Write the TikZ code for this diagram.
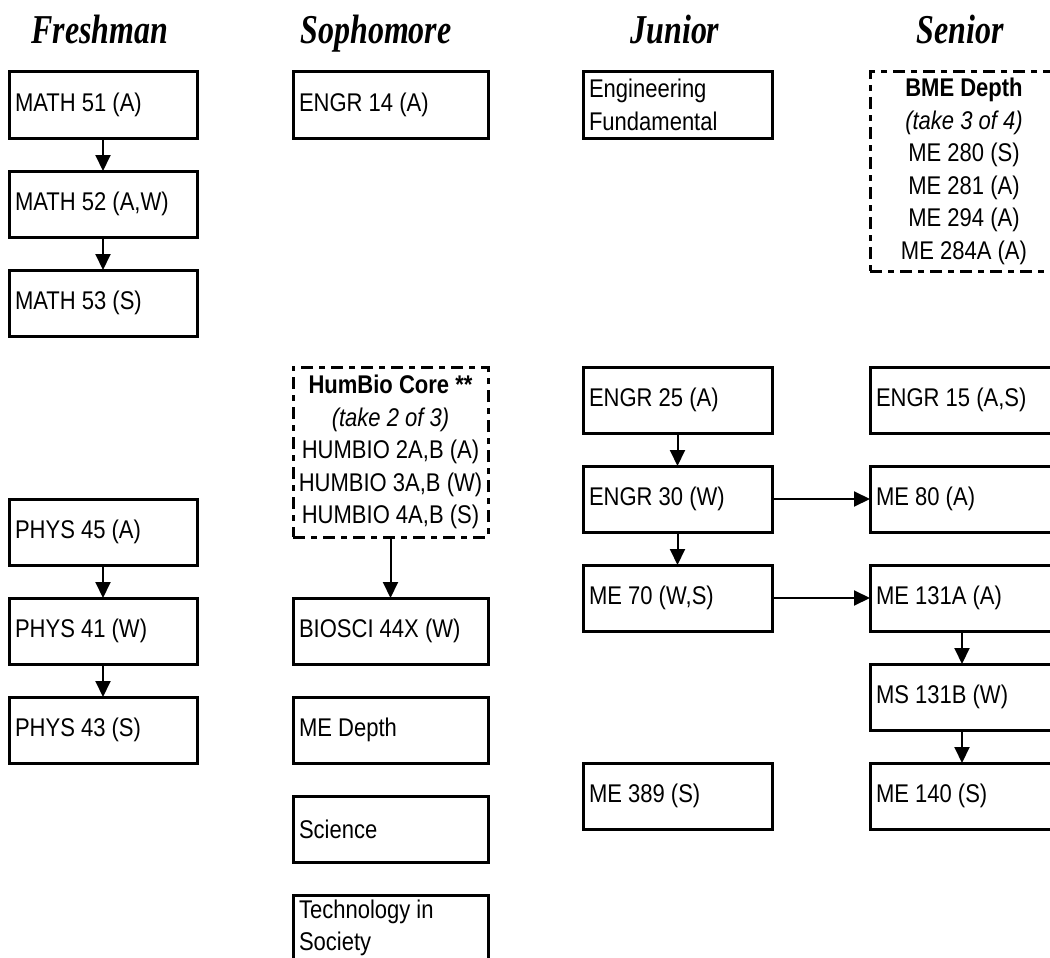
\documentclass[tikz,border=0pt]{standalone}
\usepackage{fontspec}
\setmainfont{Liberation Sans}[FakeStretch=0.86]
\newfontfamily\headfont{Liberation Serif}[FakeStretch=0.78]
\usetikzlibrary{arrows.meta}
\begin{document}
\begin{tikzpicture}[x=1pt,y=-1pt,
  box/.style={draw, line width=3pt, minimum height=66pt, inner xsep=6pt, inner ysep=3pt,
    outer sep=0pt, anchor=north west, align=left, font=\fontsize{25.6}{32.5}\selectfont,
    execute at begin node={\spaceskip=0pt\xspaceskip=0pt\relax}},
  wa/.style={text width=176pt}, wb/.style={text width=183pt},
  wc/.style={text width=177pt}, wd/.style={text width=172pt},
  dbox/.style={box, dash pattern=on 12pt off 6pt on 6pt off 6pt, align=center, inner xsep=2pt},
  arr/.style={-{Triangle[length=16pt,width=15pt]}, line width=2pt},
  head/.style={font=\headfont\bfseries\itshape\fontsize{41}{44}\selectfont, anchor=base}
]
\useasboundingbox (0,0) rectangle (1050,958);
\clip (0,0) rectangle (1050,958);
% headings
\node[head] (hfr) at (100,44) {Freshman};
\node[head] (hso) at (376,44) {Sophomore};
\node[head] (hju) at (675,44) {Junior};
\node[head] (hse) at (960,44) {Senior};
% Freshman
\node[box,wa] (m51) at (9,72) {MATH 51 (A)};
\node[box,wa] (m52) at (9,171) {MATH 52 (A,W)};
\node[box,wa] (m53) at (9,270) {MATH 53 (S)};
\node[box,wa] (p45) at (9,499) {PHYS 45 (A)};
\node[box,wa] (p41) at (9,598) {PHYS 41 (W)};
\node[box,wa] (p43) at (9,697) {PHYS 43 (S)};
% Sophomore
\node[box,wb] (e14) at (293,72) {ENGR 14 (A)};
\node[dbox,minimum width=195pt,minimum height=170pt] (hum) at (293,367)
  {\textbf{HumBio Core **}\\\textit{(take 2 of 3)}\\HUMBIO 2A,B (A)\\HUMBIO 3A,B (W)\\HUMBIO 4A,B (S)};
\node[box,wb] (bio) at (293,598) {BIOSCI 44X (W)};
\node[box,wb] (med) at (293,697) {ME Depth};
\node[box,wb] (sci) at (293,796) {Science};
\node[box,wb] (tis) at (293,895) {Technology in\\Society};
% Junior
\node[box,wc] (ef) at (583,72) {Engineering\\Fundamental};
\node[box,wc] (e25) at (583,367) {ENGR 25 (A)};
\node[box,wc] (e30) at (583,466) {ENGR 30 (W)};
\node[box,wc] (me70) at (583,565) {ME 70 (W,S)};
\node[box,wc] (me389) at (583,763) {ME 389 (S)};
% Senior
\node[dbox,minimum width=188pt,minimum height=199pt] (bme) at (870,72)
  {\textbf{BME Depth}\\\textit{(take 3 of 4)}\\ME 280 (S)\\ME 281 (A)\\ME 294 (A)\\ME 284A (A)};
\node[box,wd] (e15) at (870,367) {ENGR 15 (A,S)};
\node[box,wd] (me80) at (870,466) {ME 80 (A)};
\node[box,wd] (me131a) at (870,565) {ME 131A (A)};
\node[box,wd] (ms131b) at (870,664) {MS 131B (W)};
\node[box,wd] (me140) at (870,763) {ME 140 (S)};
% arrows
\draw[arr] (m51.south) -- (m52.north);
\draw[arr] (m52.south) -- (m53.north);
\draw[arr] (p45.south) -- (p41.north);
\draw[arr] (p41.south) -- (p43.north);
\draw[arr] (hum.south) -- (bio.north);
\draw[arr] (e25.south) -- (e30.north);
\draw[arr] (e30.south) -- (me70.north);
\draw[arr] (e30.east) -- (me80.west);
\draw[arr] (me70.east) -- (me131a.west);
\draw[arr] (me131a.south) -- (ms131b.north);
\draw[arr] (ms131b.south) -- (me140.north);
\end{tikzpicture}
\end{document}
